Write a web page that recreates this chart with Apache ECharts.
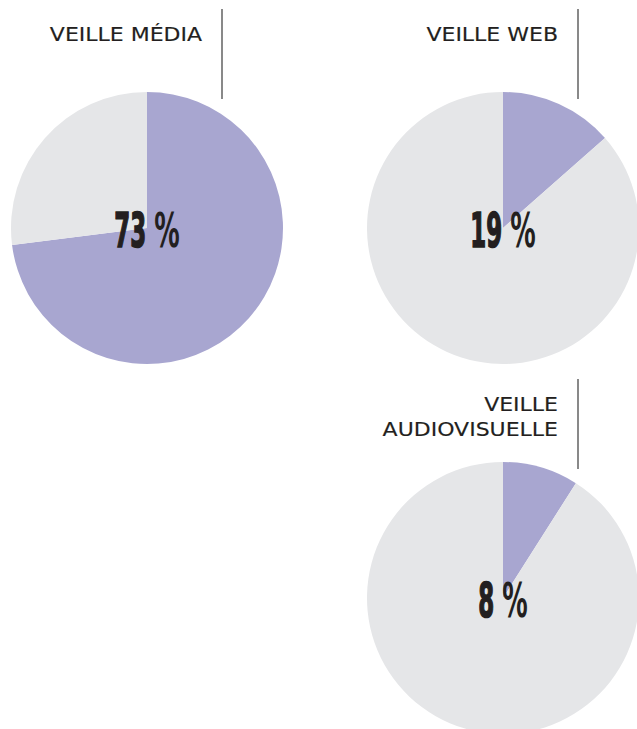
<!DOCTYPE html>
<html>
<head>
<meta charset="utf-8">
<script src="https://cdn.jsdelivr.net/npm/echarts@6/dist/echarts.min.js"></script>
<style>
  html, body { margin: 0; padding: 0; background: #fff; }
  #chart { width: 637px; height: 729px; }
</style>
</head>
<body>
<div id="chart"></div>
<script>
"use strict";
/* three small pies: share of each kind of "veille" */

const titles = [["VEILLE MÉDIA"], ["VEILLE WEB"], ["VEILLE", "AUDIOVISUELLE"]];
const labelPct = [73, 19, 8];           // figures printed in the middle
const sliceShare = [73, 13.5, 9];       // slice size as drawn in the picture
const rest = sliceShare.map((v) => 100 - v);

const PURPLE = "#a8a6d0", GREY = "#e5e6e8", INK = "#231f20";
const R = 136;
const centers = [[147, 228], [503, 228], [503, 598]];
const ruleX = [222, 578, 578];
const ruleTop = [9, 9, 379];

const chart = echarts.init(document.getElementById("chart"), null, {renderer: "svg"});

const series = sliceShare.map((v, i) => ({
  type: "pie",
  center: centers[i],
  radius: R,
  startAngle: 90,
  clockwise: true,
  silent: true,
  label: {show: false},
  labelLine: {show: false},
  itemStyle: {borderWidth: 0},
  data: [
    {value: v, itemStyle: {color: PURPLE}},
    {value: rest[i], itemStyle: {color: GREY}},
  ],
}));

const graphic = [];
titles.forEach((lines, i) => {
  const [cx, cy] = centers[i];
  // heading, right aligned against the thin rule
  lines.forEach((txt, j) => {
    graphic.push({
      type: "text", x: ruleX[i] - 20, y: ruleTop[i] + 25 + j * 25,
      scaleX: 1.1, silent: true,
      style: {text: txt, align: "right", verticalAlign: "middle",
        font: "20px 'DejaVu Sans'", fill: INK, stroke: INK, lineWidth: 0.15},
    });
  });
  graphic.push({
    type: "line", silent: true,
    shape: {x1: ruleX[i], y1: ruleTop[i], x2: ruleX[i], y2: ruleTop[i] + 90},
    style: {stroke: "#4a4a4a", lineWidth: 1.3},
  });
  // big condensed percentage in the middle
  graphic.push({
    type: "text", x: cx, y: cy + 2, scaleX: 0.53, silent: true, z: 10,
    style: {
      text: `{n|${labelPct[i]} }{p|%}`, align: "center", verticalAlign: "middle", fill: INK,
      rich: {
        n: {fontFamily: "DejaVu Sans Condensed", fontWeight: "bold", fontSize: 48,
          fill: INK, stroke: INK, lineWidth: 1.6},
        p: {fontFamily: "DejaVu Sans", fontWeight: "bold", fontSize: 48, fill: INK},
      },
    },
  });
});

chart.setOption({
  animation: false,
  backgroundColor: "#fff",
  series,
  graphic,
});
</script>
</body>
</html>
